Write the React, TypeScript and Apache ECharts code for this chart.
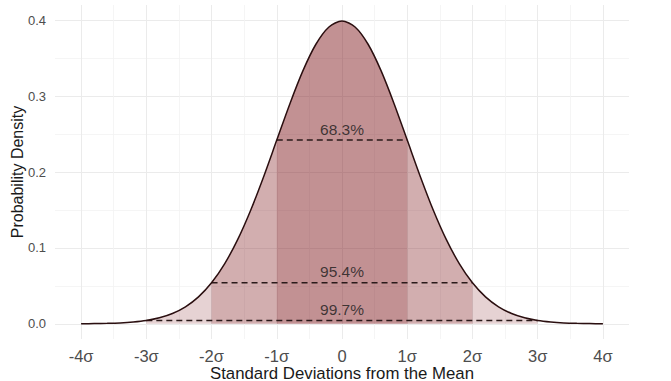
import React, { useEffect, useRef } from "react";
import * as echarts from "echarts";

const xs = [-4, -3.8, -3.6, -3.4, -3.2, -3, -2.8, -2.6, -2.4, -2.2, -2, -1.8, -1.6, -1.4, -1.2, -1, -0.8, -0.6, -0.4, -0.2, 0, 0.2, 0.4, 0.6, 0.8, 1, 1.2, 1.4, 1.6, 1.8, 2, 2.2, 2.4, 2.6, 2.8, 3, 3.2, 3.4, 3.6, 3.8, 4];
const density = [0.0001, 0.0003, 0.0006, 0.0012, 0.0024, 0.0044, 0.0079, 0.0136, 0.0224, 0.0355, 0.054, 0.079, 0.1109, 0.1497, 0.1942, 0.242, 0.2897, 0.3332, 0.3683, 0.391, 0.3989, 0.391, 0.3683, 0.3332, 0.2897, 0.242, 0.1942, 0.1497, 0.1109, 0.079, 0.054, 0.0355, 0.0224, 0.0136, 0.0079, 0.0044, 0.0024, 0.0012, 0.0006, 0.0003, 0.0001];
const bands = [3, 2, 1];
const bandLabels = ["99.7%", "95.4%", "68.3%"];
const bandHeights = [0.0044, 0.054, 0.242];
const xTicks = [-4, -3, -2, -1, 0, 1, 2, 3, 4];
const xTickLabels = ["-4σ", "-3σ", "-2σ", "-1σ", "0", "1σ", "2σ", "3σ", "4σ"];
const xMinor = [-3.5, -2.5, -1.5, -0.5, 0.5, 1.5, 2.5, 3.5];
const yTicks = [0, 0.1, 0.2, 0.3, 0.4];
const yMinor = [0.05, 0.15, 0.25, 0.35];

const FONT = "Liberation Sans, Arial, sans-serif";

export default function App() {
  const ref = useRef<HTMLDivElement>(null);
  useEffect(() => {
    if (!ref.current) return;
    const chart = echarts.init(ref.current, null, { renderer: "svg" });
    const pts = xs.map((x, i) => [x, density[i]]);
    const fillSeries = bands.map((b) => ({
      type: "line",
      data: pts.filter((p) => p[0] >= -b - 1e-9 && p[0] <= b + 1e-9),
      smooth: 0.3,
      showSymbol: false,
      symbol: "none",
      lineStyle: { width: 0, opacity: 0 },
      areaStyle: { color: "rgb(130,30,36)", opacity: 0.2 },
      silent: true,
      z: 1,
    }));
    const dashSeries = bands.map((b, i) => ({
      type: "line",
      data: [[-b, bandHeights[i]], [b, bandHeights[i]]],
      showSymbol: false,
      symbol: "none",
      lineStyle: { color: "#2a1a1a", width: 1.5, type: [6, 4] },
      silent: true,
      z: 3,
    }));
    const labelSeries = {
      type: "scatter",
      data: bands.map((b, i) => ({ value: [0, bandHeights[i]], name: bandLabels[i] })),
      symbolSize: 0,
      label: {
        show: true,
        position: "top",
        distance: 3,
        formatter: (p: any) => p.name,
        color: "#1a1a1a",
        fontSize: 15.5,
        fontFamily: FONT,
      },
      silent: true,
      z: 4,
    };
    const axisCommon = {
      axisLine: { show: false },
      axisTick: { show: false },
    };
    chart.setOption({
      animation: false,
      grid: { left: 55, right: 42, top: 5, bottom: 42, containLabel: false, outerBoundsMode: "none" },
      xAxis: [
        {
          type: "value",
          min: -4.4,
          max: 4.4,
          ...axisCommon,
          axisTick: { show: false, customValues: xTicks },
          axisLabel: {
            customValues: xTicks,
            formatter: (v: number) => xTickLabels[xTicks.indexOf(Math.round(v))] ?? "",
            color: "#4d4d4d",
            fontSize: 16.5,
            fontFamily: FONT,
            margin: 8,
          },
          splitLine: { show: true, lineStyle: { color: "#ebebeb", width: 1 } },
          name: "Standard Deviations from the Mean",
          nameLocation: "middle",
          nameGap: 26,
          nameMoveOverlap: false,
          nameTextStyle: { color: "#1a1a1a", fontSize: 16.8, lineHeight: 16, fontFamily: FONT, verticalAlign: "top" },
        },
        {
          type: "value",
          min: -4.4,
          max: 4.4,
          ...axisCommon,
          axisTick: { show: false, customValues: xMinor },
          axisLabel: { show: false },
          splitLine: { show: true, lineStyle: { color: "#f3f3f3", width: 0.8 } },
        },
      ],
      yAxis: [
        {
          type: "value",
          min: -0.02,
          max: 0.42,
          ...axisCommon,
          axisTick: { show: false, customValues: yTicks },
          axisLabel: {
            customValues: yTicks,
            formatter: (v: number) => v.toFixed(1),
            color: "#4d4d4d",
            fontSize: 13,
            fontFamily: FONT,
            margin: 9,
          },
          splitLine: { show: true, lineStyle: { color: "#ebebeb", width: 1 } },
          name: "Probability Density",
          nameLocation: "middle",
          nameGap: 30,
          nameMoveOverlap: false,
          nameRotate: 90,
          nameTextStyle: { color: "#1a1a1a", fontSize: 16, fontFamily: FONT },
        },
        {
          type: "value",
          min: -0.02,
          max: 0.42,
          ...axisCommon,
          axisTick: { show: false, customValues: yMinor },
          axisLabel: { show: false },
          splitLine: { show: true, lineStyle: { color: "#f3f3f3", width: 0.8 } },
        },
      ],
      series: [
        ...fillSeries,
        {
          type: "line",
          data: pts,
          smooth: 0.3,
          showSymbol: false,
          symbol: "none",
          lineStyle: { color: "#2b0f10", width: 1.5 },
          silent: true,
          z: 5,
        },
        ...dashSeries,
        labelSeries,
      ],
    });
    return () => chart.dispose();
  }, []);
  return <div ref={ref} style={{ width: 671, height: 381, position: "absolute", left: 0, top: 0 }} />;
}
